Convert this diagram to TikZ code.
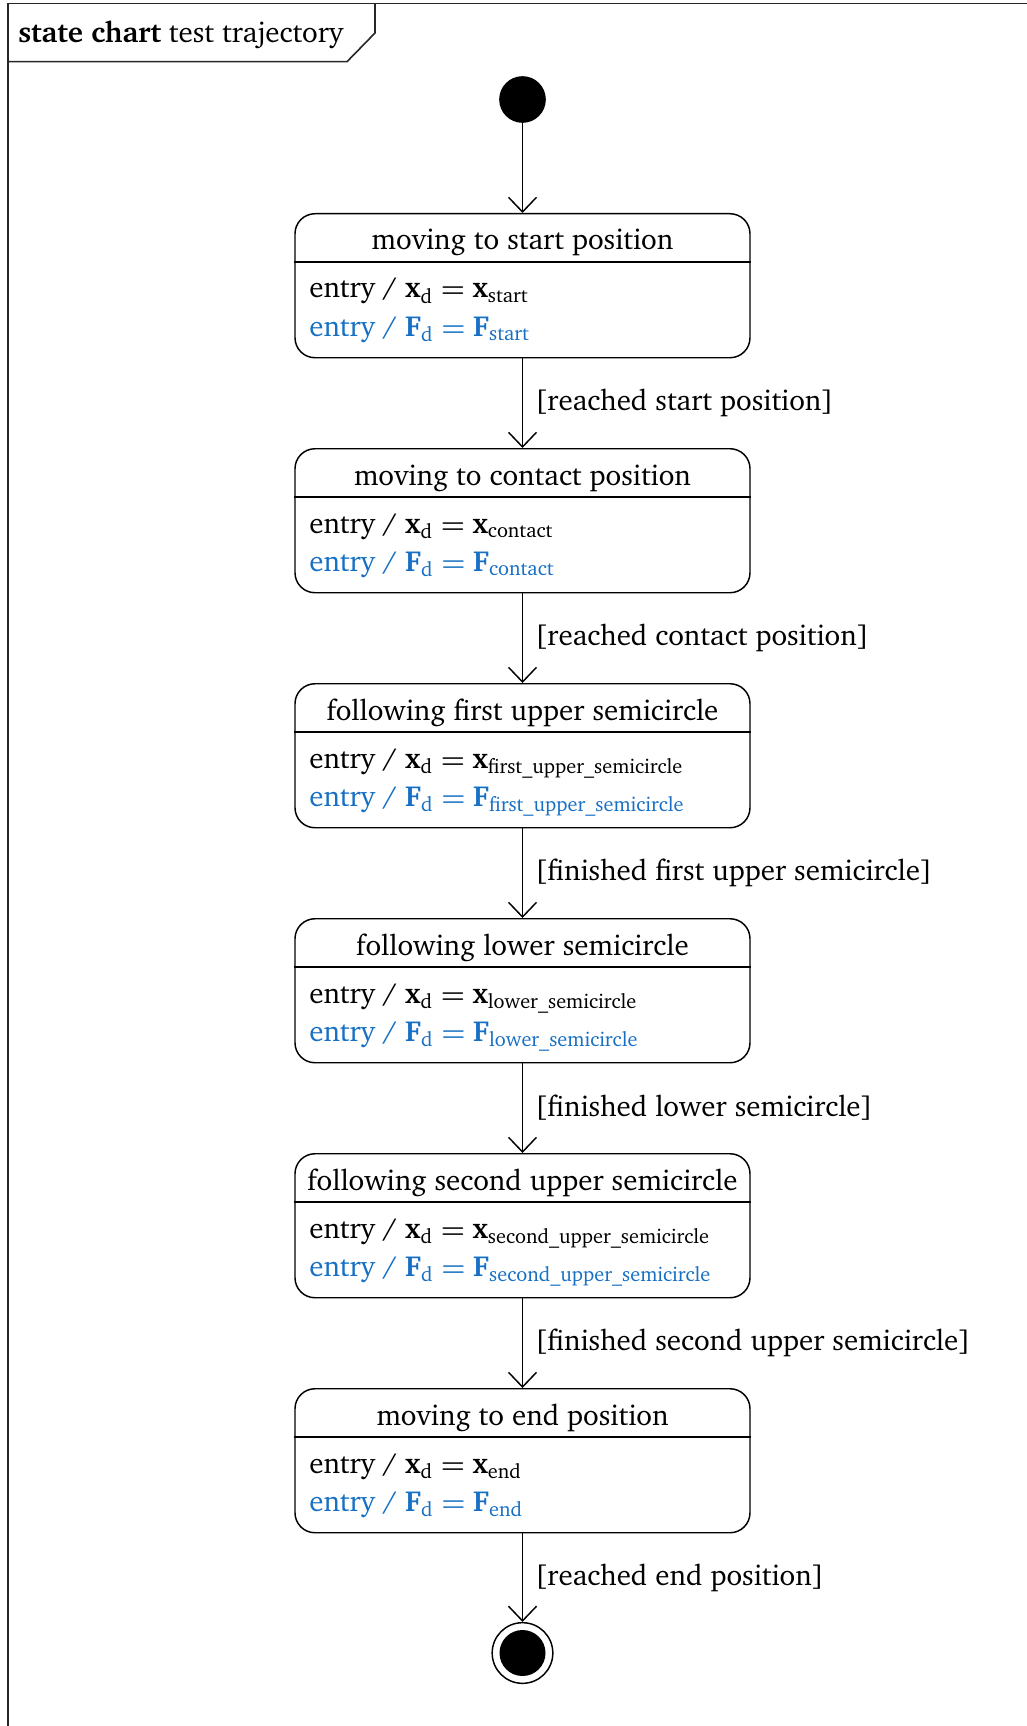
\documentclass[tikz,border=0pt]{standalone}
\usepackage[T1]{fontenc}
\usepackage{charter}
\usetikzlibrary{arrows.meta}
\definecolor{entryblue}{RGB}{23,112,196}
\tikzset{
  x=0.75pt, y=-0.75pt,
  frameline/.style={line width=1.2pt, draw=black!85},
  statebox/.style={draw, line width=1.1pt, rounded corners=15pt,
    minimum width=341.25pt, minimum height=108pt, inner sep=0pt},
  divider/.style={line width=1.1pt},
  flow/.style={line width=1.1pt, -{Straight Barb[length=11pt, width=21pt, line width=1.1pt]}},
  labelfont/.style={font=\fontsize{21.75}{26}\selectfont},
  titletext/.style={labelfont, anchor=base, inner sep=0pt},
  entrytext/.style={labelfont, anchor=base west, inner sep=0pt},
  guardtext/.style={labelfont, anchor=west, inner sep=0pt},
}
\newcommand{\vx}{\textbf{x}}
\newcommand{\vF}{\textbf{F}}
\newcommand{\sub}[1]{\textsubscript{#1}}
\newcommand{\eqsign}{\hspace{0.28em}$\boldsymbol{=}$\hspace{0.26em}}
\usepackage{amsmath}
\begin{document}
\begin{tikzpicture}
\useasboundingbox (0,0) rectangle (1027,1726);
% diagram frame with name tab
\draw[frameline] (8,1726) -- (8,3.5) -- (1027,3.5);
\draw[frameline] (8,61.7) -- (347,61.7) -- (375,33) -- (375,3.5);
\node[labelfont, anchor=base west, inner sep=0pt] (frametitle) at (18,42.7)
  {\textbf{state chart} test trajectory};

% initial state
\node[circle, fill=black, minimum size=35pt, inner sep=0pt] (init) at (522.5,99.5) {};

% states: name, top edge, title, subscript
\foreach \n/\top/\title/\key in {
  s1/213/moving to start position/start,
  s2/448/moving to contact position/contact,
  s3/683/following first upper semicircle/first\_upper\_semicircle,
  s4/918/following lower semicircle/lower\_semicircle,
  s5/1153/following second upper semicircle/second\_upper\_semicircle,
  s6/1388/moving to end position/end}{
  \node[statebox, anchor=north] (\n) at (522.5,\top) {};
  \draw[divider] (\n.west |- 0,\top+49) -- (\n.east |- 0,\top+49);
  \node[titletext] (\n-name) at (522.5,\top+37) {\title};
  \node[entrytext] (\n-x) at (309,\top+85) {entry / \vx\sub{d}\eqsign\vx\sub{\key}};
  \node[entrytext, text=entryblue] (\n-f) at (309,\top+123) {entry / \vF\sub{d}\eqsign\vF\sub{\key}};
}

% final state
\node[circle, draw, line width=1.1pt, minimum size=45.5pt, inner sep=0pt] (final) at (522.5,1653) {};
\node[circle, fill=black, minimum size=34.5pt, inner sep=0pt] (finaldot) at (final.center) {};

% transitions
\draw[flow] (init) -- (s1.north);
\draw[flow] (s1.south) -- node[guardtext, pos=0.5, xshift=9pt] (g1) {[reached start position]} (s2.north);
\draw[flow] (s2.south) -- node[guardtext, pos=0.5, xshift=9pt] (g2) {[reached contact position]} (s3.north);
\draw[flow] (s3.south) -- node[guardtext, pos=0.5, xshift=9pt] (g3) {[finished first upper semicircle]} (s4.north);
\draw[flow] (s4.south) -- node[guardtext, pos=0.5, xshift=9pt] (g4) {[finished lower semicircle]} (s5.north);
\draw[flow] (s5.south) -- node[guardtext, pos=0.5, xshift=9pt] (g5) {[finished second upper semicircle]} (s6.north);
\draw[flow] (s6.south) -- node[guardtext, pos=0.5, xshift=9pt] (g6) {[reached end position]} (final);
\end{tikzpicture}
\end{document}
